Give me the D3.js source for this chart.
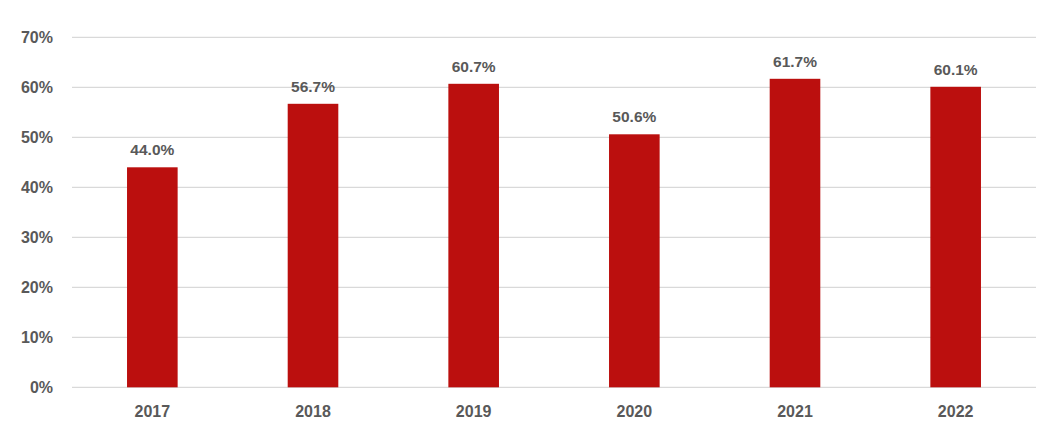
<!DOCTYPE html>
<html><head><meta charset="utf-8">
<script src="https://cdn.jsdelivr.net/npm/d3@7"></script>
<style>html,body{margin:0;padding:0;background:#fff;}svg{display:block;}</style>
</head><body>
<svg id="c" width="1045" height="439"></svg>
<script>
const categories = ["2017","2018","2019","2020","2021","2022"];
const values = [44.0, 56.7, 60.7, 50.6, 61.7, 60.1];
const yTicks = [0,10,20,30,40,50,60,70];

(function(){
const svg = d3.select("#c");
const mLeft = 72, mRight = 1036, mTop = 37.3, mBottom = 387.3;
const x = d3.scaleBand().domain(categories).range([mLeft, mRight]).paddingInner(0.685).paddingOuter(0.3425);
const y = d3.scaleLinear().domain([0,70]).range([mBottom, mTop]);
const font = "'Liberation Sans', Arial, sans-serif";
const textColor = "#595959";

svg.append("g").selectAll("line").data(yTicks).join("line")
  .attr("x1", mLeft).attr("x2", mRight)
  .attr("y1", d => y(d)).attr("y2", d => y(d))
  .attr("stroke", "#d9d9d9").attr("stroke-width", 1.3);

const yAxis = d3.axisLeft(y).tickValues(yTicks).tickFormat(d => d + "%").tickSize(0).tickPadding(0);
const ya = svg.append("g").attr("transform", `translate(53,0)`).call(yAxis);
ya.select(".domain").remove();
ya.selectAll("text").attr("font-family", font).attr("font-weight", "bold").attr("font-size", 16).attr("fill", textColor);

const xAxis = d3.axisBottom(x).tickSize(0).tickPadding(0);
const xa = svg.append("g").attr("transform", `translate(0,406)`).call(xAxis);
xa.select(".domain").remove();
xa.selectAll("text").attr("font-family", font).attr("font-weight", "bold").attr("font-size", 16).attr("fill", textColor);

svg.append("g").selectAll("rect").data(values).join("rect")
  .attr("x", (d,i) => x(categories[i]))
  .attr("width", x.bandwidth())
  .attr("y", d => y(d))
  .attr("height", d => y(0) - y(d))
  .attr("fill", "#bb0f0e");

svg.append("g").selectAll("text").data(values).join("text")
  .attr("x", (d,i) => x(categories[i]) + x.bandwidth()/2)
  .attr("y", d => y(d) - 12)
  .attr("text-anchor", "middle")
  .attr("font-family", font).attr("font-weight", "bold").attr("font-size", 15.5)
  .attr("fill", textColor)
  .text(d => d.toFixed(1) + "%");
})();
</script>
</body></html>
